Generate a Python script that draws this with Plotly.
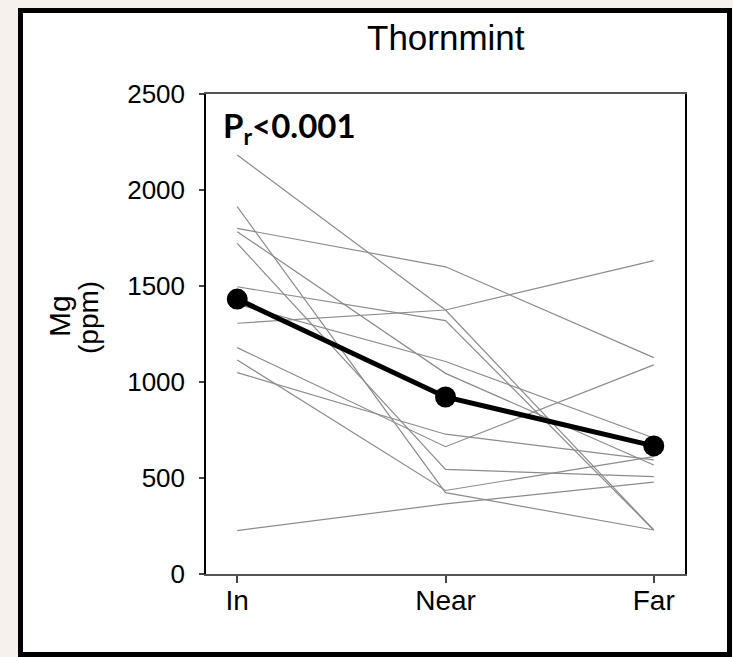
import plotly.graph_objects as go

categories = ["In", "Near", "Far"]
# individual series (ppm Mg) at In / Near / Far
series = [
    [1800, 1600, 1127],
    [1306, 1375, 1632],
    [2182, 1375, 229],
    [1496, 1320, 229],
    [1913, 424, 229],
    [226, 365, 479],
    [1115, 435, 611],
    [1049, 728, 594],
    [1179, 663, 1089],
    [1405, 1107, 708],
    [1783, 1045, 568],
    [1722, 545, 507],
]
mean_values = [1432, 922, 667]
y_ticks = [0, 500, 1000, 1500, 2000, 2500]
title_text = "Thornmint"
y_title_1 = "Mg"
y_title_2 = "(ppm)"
p_text = "<b>P<sub>r</sub><0.001</b>"

W, H = 733, 657
L, R, T, B = 206, 685, 94, 574


def px(xp):
    return (xp - L) / (R - L)


def py(yp):
    return (B - yp) / (B - T)


fig = go.Figure()
for s in series:
    fig.add_trace(go.Scatter(x=[0, 1, 2], y=s, mode="lines",
                             line=dict(color="#8c8c8c", width=1.2),
                             hoverinfo="skip", showlegend=False))
fig.add_trace(go.Scatter(x=[0, 1, 2], y=mean_values, mode="lines+markers",
                         line=dict(color="black", width=5),
                         marker=dict(color="black", size=21),
                         showlegend=False))

font_main = "Liberation Sans Narrow, Liberation Sans, Arial, sans-serif"

fig.update_layout(
    width=W, height=H,
    margin=dict(l=L, r=W - R, t=T, b=H - B),
    paper_bgcolor="#f6f1ec",
    plot_bgcolor="white",
    font=dict(family=font_main, color="black", size=24),
    shapes=[
        dict(type="rect", xref="paper", yref="paper",
             x0=px(20.5), x1=px(729.5), y0=py(654.5), y1=py(10.5),
             fillcolor="white", line=dict(color="black", width=5), layer="below"),
    ],
    annotations=[
        dict(text=title_text, xref="paper", yref="paper", x=px(446), y=py(38),
             showarrow=False, font=dict(size=35, family=font_main), xanchor="center", yanchor="middle"),
        dict(text=y_title_1, xref="paper", yref="paper", x=px(59), y=py(316),
             showarrow=False, textangle=-90, font=dict(size=30, family=font_main),
             xanchor="center", yanchor="middle"),
        dict(text=y_title_2, xref="paper", yref="paper", x=px(88), y=py(318),
             showarrow=False, textangle=-90, font=dict(size=28, family=font_main),
             xanchor="center", yanchor="middle"),
        dict(text=p_text, xref="paper", yref="paper", x=px(221), y=py(128),
             showarrow=False, font=dict(size=33, family="Lato, sans-serif"),
             xanchor="left", yanchor="middle"),
    ],
)
fig.update_xaxes(
    range=[-0.15, 2.15], tickvals=[0, 1, 2], ticktext=categories,
    ticks="outside", ticklen=7, tickcolor="#444", tickwidth=1.5,
    showline=True, linecolor="#555", linewidth=2, mirror=True,
    showgrid=False, zeroline=False, tickfont=dict(size=28),
    ticklabelstandoff=-7,
)
fig.update_yaxes(
    range=[0, 2500], tickvals=y_ticks,
    ticks="outside", ticklen=5, tickcolor="#444", tickwidth=1.5,
    showline=True, linecolor="black", linewidth=1.5, mirror=True,
    showgrid=False, zeroline=False, tickfont=dict(size=26),
    ticklabelstandoff=9,
)
fig.write_html("out.html")
